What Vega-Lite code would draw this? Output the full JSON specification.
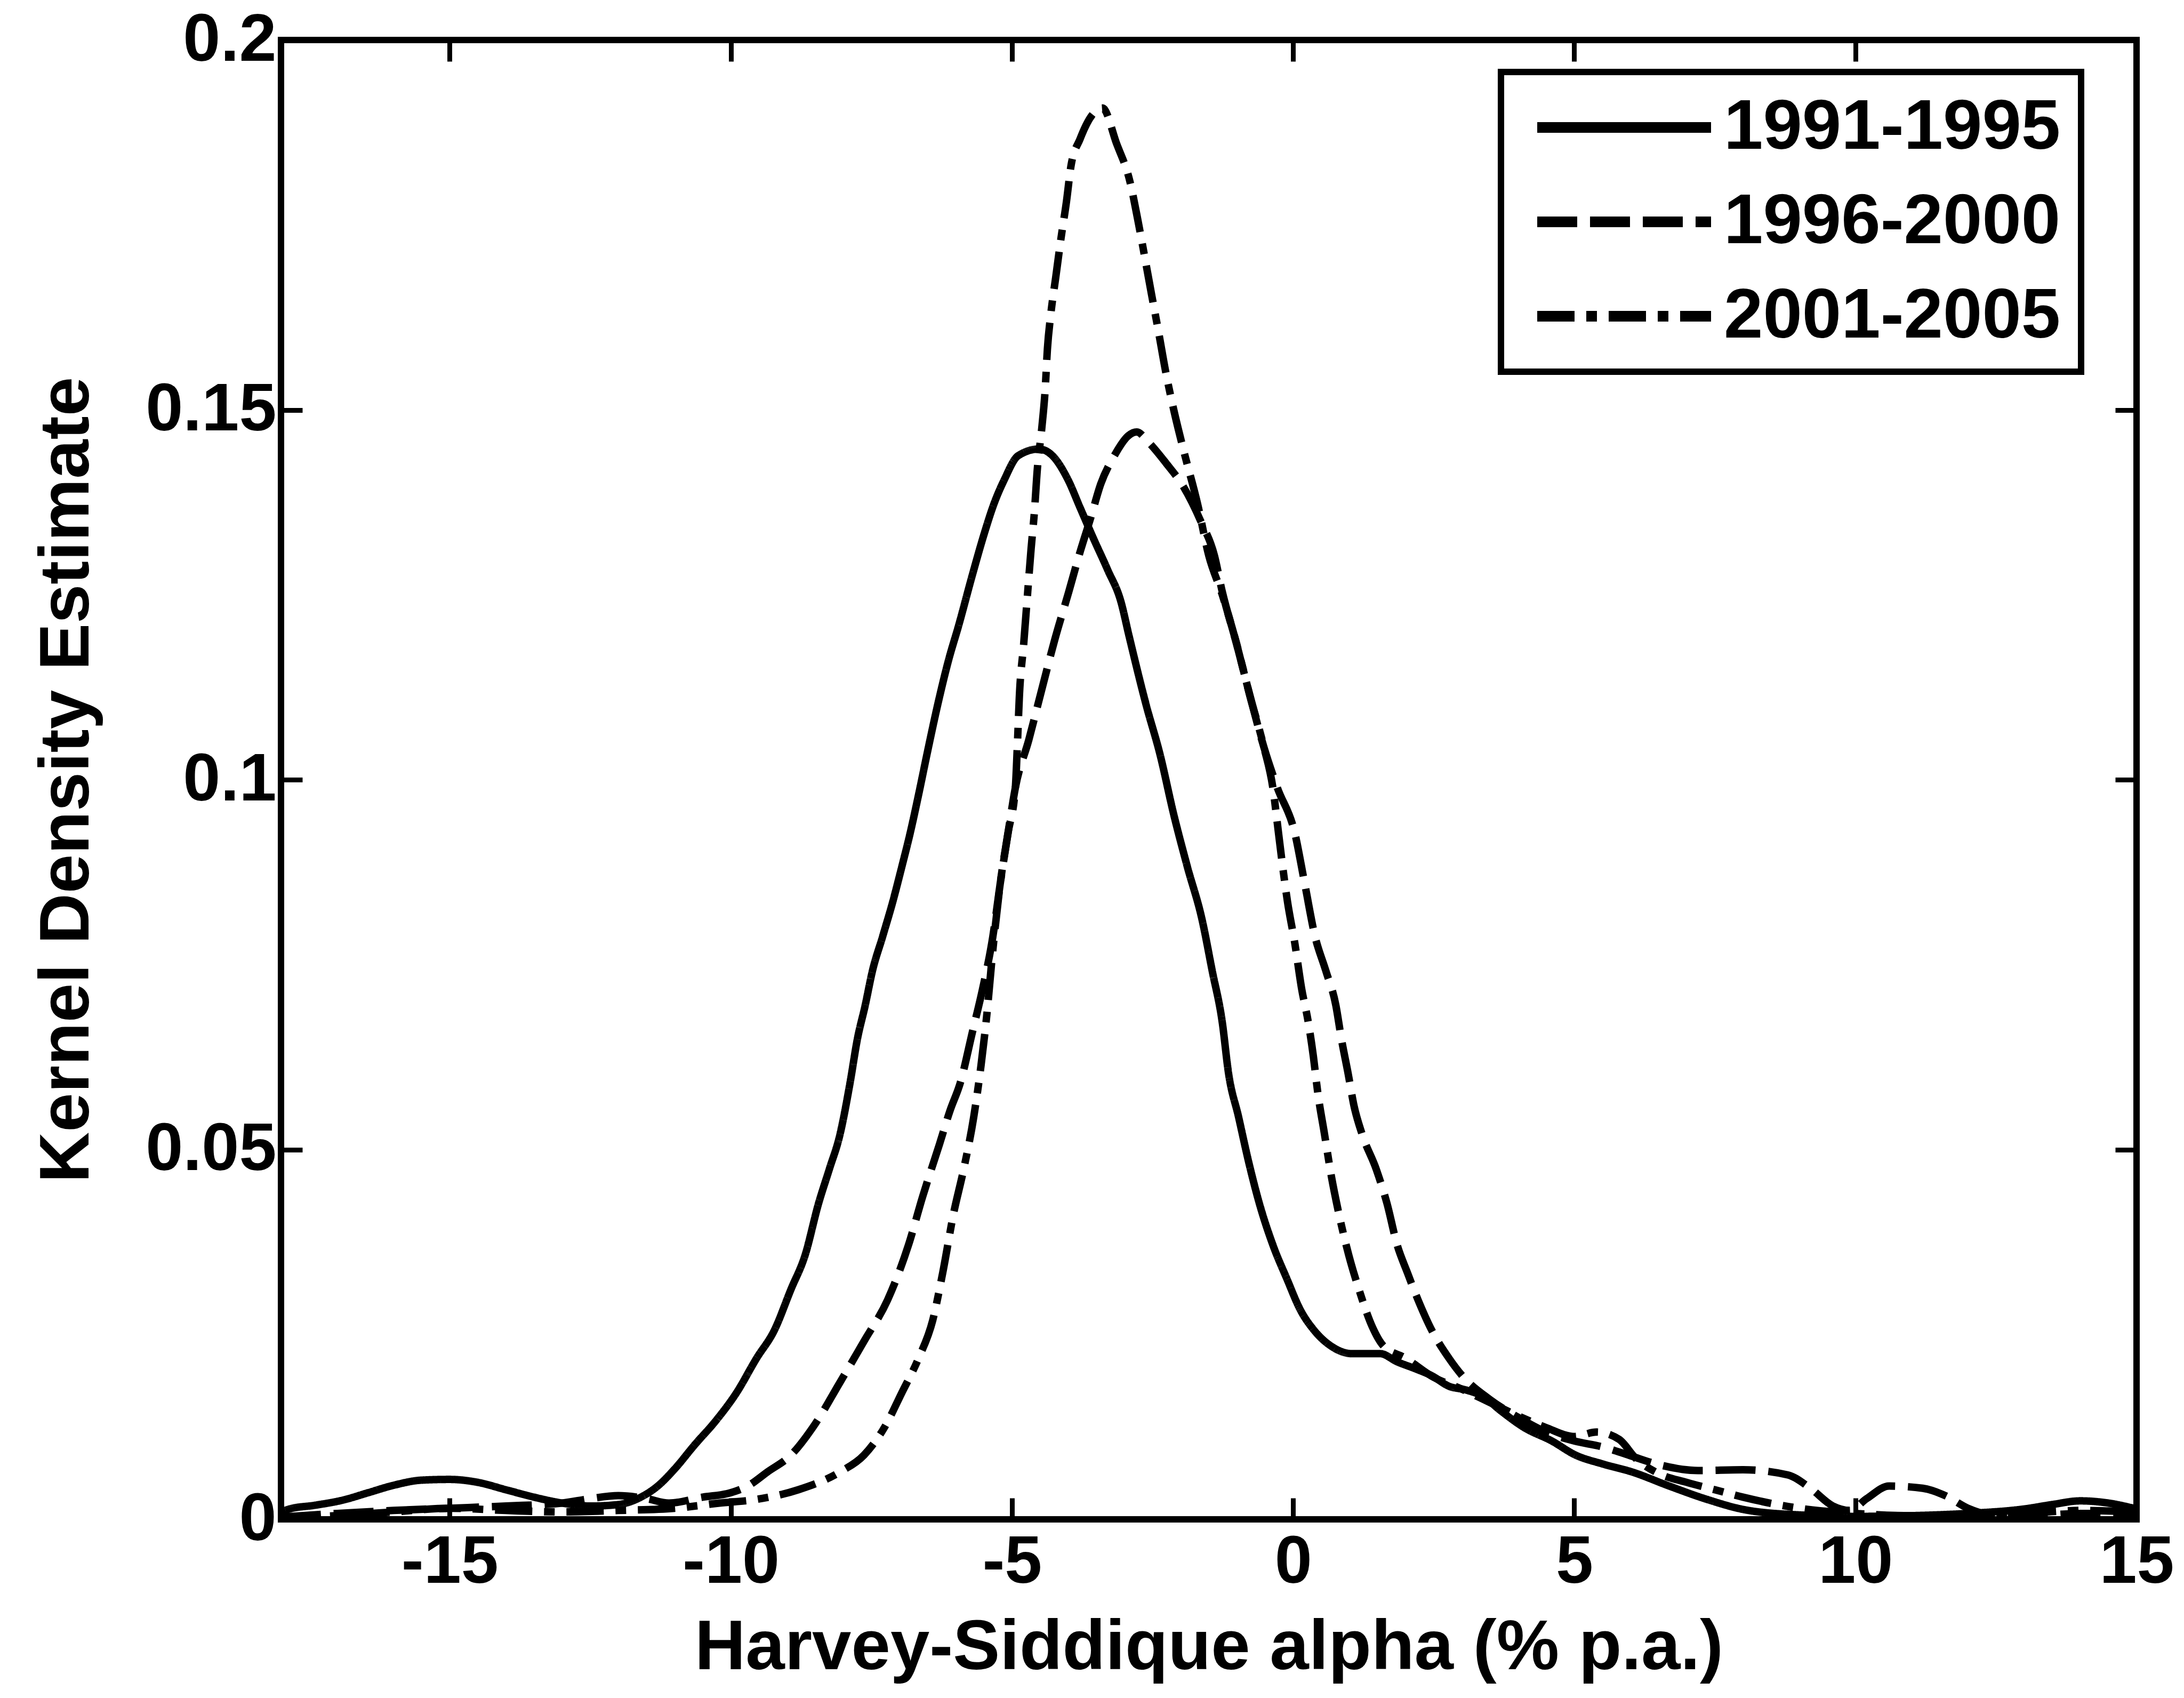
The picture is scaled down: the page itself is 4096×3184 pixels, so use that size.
{
  "$schema": "https://vega.github.io/schema/vega-lite/v6.json",
  "width": 3480,
  "height": 2774,
  "autosize": {"type": "none"},
  "padding": {"left": 527, "top": 75, "right": 89, "bottom": 334},
  "background": "white",
  "config": {
    "view": {"stroke": "black", "strokeWidth": 12},
    "font": "Liberation Sans",
    "legend": {"strokeWidth": 12}
  },
  "datasets": {
    "kde": [
      {"period":"1991-1995","alpha":-18,"density":0.0010},
      {"period":"1991-1995","alpha":-17.85,"density":0.0014},
      {"period":"1991-1995","alpha":-17.4,"density":0.0019},
      {"period":"1991-1995","alpha":-16.9,"density":0.0026},
      {"period":"1991-1995","alpha":-16.45,"density":0.0036},
      {"period":"1991-1995","alpha":-16.0,"density":0.0046},
      {"period":"1991-1995","alpha":-15.5,"density":0.0053},
      {"period":"1991-1995","alpha":-15.0,"density":0.0054},
      {"period":"1991-1995","alpha":-14.5,"density":0.0050},
      {"period":"1991-1995","alpha":-14.0,"density":0.0040},
      {"period":"1991-1995","alpha":-13.5,"density":0.0030},
      {"period":"1991-1995","alpha":-13.0,"density":0.0022},
      {"period":"1991-1995","alpha":-12.5,"density":0.0018},
      {"period":"1991-1995","alpha":-12.0,"density":0.0020},
      {"period":"1991-1995","alpha":-11.6,"density":0.0030},
      {"period":"1991-1995","alpha":-11.3,"density":0.0045},
      {"period":"1991-1995","alpha":-11.0,"density":0.0068},
      {"period":"1991-1995","alpha":-10.64,"density":0.0101},
      {"period":"1991-1995","alpha":-10.27,"density":0.0133},
      {"period":"1991-1995","alpha":-9.9,"density":0.0171},
      {"period":"1991-1995","alpha":-9.54,"density":0.0218},
      {"period":"1991-1995","alpha":-9.23,"density":0.0255},
      {"period":"1991-1995","alpha":-8.93,"density":0.0311},
      {"period":"1991-1995","alpha":-8.68,"density":0.0357},
      {"period":"1991-1995","alpha":-8.44,"density":0.0427},
      {"period":"1991-1995","alpha":-8.25,"density":0.0473},
      {"period":"1991-1995","alpha":-8.06,"density":0.0520},
      {"period":"1991-1995","alpha":-7.88,"density":0.0590},
      {"period":"1991-1995","alpha":-7.75,"density":0.0649},
      {"period":"1991-1995","alpha":-7.61,"density":0.0695},
      {"period":"1991-1995","alpha":-7.48,"density":0.0742},
      {"period":"1991-1995","alpha":-7.30,"density":0.0788},
      {"period":"1991-1995","alpha":-7.12,"density":0.0835},
      {"period":"1991-1995","alpha":-6.96,"density":0.0882},
      {"period":"1991-1995","alpha":-6.81,"density":0.0928},
      {"period":"1991-1995","alpha":-6.66,"density":0.0980},
      {"period":"1991-1995","alpha":-6.51,"density":0.1035},
      {"period":"1991-1995","alpha":-6.31,"density":0.1105},
      {"period":"1991-1995","alpha":-6.13,"density":0.1161},
      {"period":"1991-1995","alpha":-5.95,"density":0.1208},
      {"period":"1991-1995","alpha":-5.70,"density":0.1278},
      {"period":"1991-1995","alpha":-5.50,"density":0.1331},
      {"period":"1991-1995","alpha":-5.32,"density":0.1373},
      {"period":"1991-1995","alpha":-5.14,"density":0.1405},
      {"period":"1991-1995","alpha":-4.89,"density":0.1438},
      {"period":"1991-1995","alpha":-4.52,"density":0.1447},
      {"period":"1991-1995","alpha":-4.28,"density":0.1438},
      {"period":"1991-1995","alpha":-4.00,"density":0.1405},
      {"period":"1991-1995","alpha":-3.79,"density":0.1368},
      {"period":"1991-1995","alpha":-3.55,"density":0.1326},
      {"period":"1991-1995","alpha":-3.30,"density":0.1284},
      {"period":"1991-1995","alpha":-3.06,"density":0.1240},
      {"period":"1991-1995","alpha":-2.92,"density":0.1195},
      {"period":"1991-1995","alpha":-2.61,"density":0.1100},
      {"period":"1991-1995","alpha":-2.37,"density":0.1035},
      {"period":"1991-1995","alpha":-2.12,"density":0.0952},
      {"period":"1991-1995","alpha":-1.88,"density":0.0882},
      {"period":"1991-1995","alpha":-1.62,"density":0.0811},
      {"period":"1991-1995","alpha":-1.44,"density":0.0742},
      {"period":"1991-1995","alpha":-1.26,"density":0.0672},
      {"period":"1991-1995","alpha":-1.15,"density":0.0604},
      {"period":"1991-1995","alpha":-0.97,"density":0.0544},
      {"period":"1991-1995","alpha":-0.79,"density":0.0483},
      {"period":"1991-1995","alpha":-0.60,"density":0.0427},
      {"period":"1991-1995","alpha":-0.36,"density":0.0371},
      {"period":"1991-1995","alpha":-0.11,"density":0.0325},
      {"period":"1991-1995","alpha":0.13,"density":0.0283},
      {"period":"1991-1995","alpha":0.38,"density":0.0255},
      {"period":"1991-1995","alpha":0.68,"density":0.0234},
      {"period":"1991-1995","alpha":1.05,"density":0.0224},
      {"period":"1991-1995","alpha":1.55,"density":0.0224},
      {"period":"1991-1995","alpha":1.85,"density":0.0213},
      {"period":"1991-1995","alpha":2.16,"density":0.0204},
      {"period":"1991-1995","alpha":2.47,"density":0.0194},
      {"period":"1991-1995","alpha":2.77,"density":0.0180},
      {"period":"1991-1995","alpha":3.07,"density":0.0175},
      {"period":"1991-1995","alpha":3.38,"density":0.0166},
      {"period":"1991-1995","alpha":3.69,"density":0.0147},
      {"period":"1991-1995","alpha":4.11,"density":0.0124},
      {"period":"1991-1995","alpha":4.60,"density":0.0106},
      {"period":"1991-1995","alpha":5.02,"density":0.0087},
      {"period":"1991-1995","alpha":5.5,"density":0.0075},
      {"period":"1991-1995","alpha":6.03,"density":0.0064},
      {"period":"1991-1995","alpha":6.69,"density":0.0045},
      {"period":"1991-1995","alpha":7.36,"density":0.0027},
      {"period":"1991-1995","alpha":8.03,"density":0.0013},
      {"period":"1991-1995","alpha":9.0,"density":0.0006},
      {"period":"1991-1995","alpha":10.0,"density":0.0004},
      {"period":"1991-1995","alpha":11.0,"density":0.0005},
      {"period":"1991-1995","alpha":12.0,"density":0.0008},
      {"period":"1991-1995","alpha":13.0,"density":0.0014},
      {"period":"1991-1995","alpha":13.5,"density":0.0020},
      {"period":"1991-1995","alpha":14.0,"density":0.0025},
      {"period":"1991-1995","alpha":14.5,"density":0.0022},
      {"period":"1991-1995","alpha":15.0,"density":0.0014},

      {"period":"1996-2000","alpha":-18,"density":0.0003},
      {"period":"1996-2000","alpha":-17,"density":0.0008},
      {"period":"1996-2000","alpha":-16,"density":0.0012},
      {"period":"1996-2000","alpha":-15,"density":0.0015},
      {"period":"1996-2000","alpha":-14,"density":0.0018},
      {"period":"1996-2000","alpha":-13,"density":0.0022},
      {"period":"1996-2000","alpha":-12.5,"density":0.0028},
      {"period":"1996-2000","alpha":-12,"density":0.0032},
      {"period":"1996-2000","alpha":-11.5,"density":0.0028},
      {"period":"1996-2000","alpha":-11.1,"density":0.0022},
      {"period":"1996-2000","alpha":-10.5,"density":0.0030},
      {"period":"1996-2000","alpha":-10.0,"density":0.0036},
      {"period":"1996-2000","alpha":-9.7,"density":0.0045},
      {"period":"1996-2000","alpha":-9.35,"density":0.0064},
      {"period":"1996-2000","alpha":-8.93,"density":0.0087},
      {"period":"1996-2000","alpha":-8.50,"density":0.0129},
      {"period":"1996-2000","alpha":-8.06,"density":0.0185},
      {"period":"1996-2000","alpha":-7.63,"density":0.0241},
      {"period":"1996-2000","alpha":-7.21,"density":0.0297},
      {"period":"1996-2000","alpha":-6.84,"density":0.0371},
      {"period":"1996-2000","alpha":-6.59,"density":0.0436},
      {"period":"1996-2000","alpha":-6.29,"density":0.0507},
      {"period":"1996-2000","alpha":-6.10,"density":0.0553},
      {"period":"1996-2000","alpha":-5.92,"density":0.0590},
      {"period":"1996-2000","alpha":-5.70,"density":0.0660},
      {"period":"1996-2000","alpha":-5.52,"density":0.0718},
      {"period":"1996-2000","alpha":-5.34,"density":0.0788},
      {"period":"1996-2000","alpha":-5.21,"density":0.0859},
      {"period":"1996-2000","alpha":-5.07,"density":0.0928},
      {"period":"1996-2000","alpha":-4.94,"density":0.0989},
      {"period":"1996-2000","alpha":-4.70,"density":0.1054},
      {"period":"1996-2000","alpha":-4.48,"density":0.1119},
      {"period":"1996-2000","alpha":-4.24,"density":0.1189},
      {"period":"1996-2000","alpha":-3.99,"density":0.1254},
      {"period":"1996-2000","alpha":-3.80,"density":0.1305},
      {"period":"1996-2000","alpha":-3.60,"density":0.1354},
      {"period":"1996-2000","alpha":-3.42,"density":0.1400},
      {"period":"1996-2000","alpha":-3.18,"density":0.1438},
      {"period":"1996-2000","alpha":-2.93,"density":0.1465},
      {"period":"1996-2000","alpha":-2.78,"density":0.1470},
      {"period":"1996-2000","alpha":-2.57,"density":0.1456},
      {"period":"1996-2000","alpha":-2.26,"density":0.1428},
      {"period":"1996-2000","alpha":-1.95,"density":0.1396},
      {"period":"1996-2000","alpha":-1.64,"density":0.1349},
      {"period":"1996-2000","alpha":-1.40,"density":0.1303},
      {"period":"1996-2000","alpha":-1.26,"density":0.1254},
      {"period":"1996-2000","alpha":-1.01,"density":0.1185},
      {"period":"1996-2000","alpha":-0.77,"density":0.1114},
      {"period":"1996-2000","alpha":-0.52,"density":0.1044},
      {"period":"1996-2000","alpha":-0.28,"density":0.0989},
      {"period":"1996-2000","alpha":0.03,"density":0.0928},
      {"period":"1996-2000","alpha":0.21,"density":0.0858},
      {"period":"1996-2000","alpha":0.39,"density":0.0788},
      {"period":"1996-2000","alpha":0.58,"density":0.0742},
      {"period":"1996-2000","alpha":0.76,"density":0.0695},
      {"period":"1996-2000","alpha":0.86,"density":0.0649},
      {"period":"1996-2000","alpha":0.98,"density":0.0602},
      {"period":"1996-2000","alpha":1.08,"density":0.0560},
      {"period":"1996-2000","alpha":1.23,"density":0.0520},
      {"period":"1996-2000","alpha":1.48,"density":0.0473},
      {"period":"1996-2000","alpha":1.67,"density":0.0427},
      {"period":"1996-2000","alpha":1.85,"density":0.0371},
      {"period":"1996-2000","alpha":2.03,"density":0.0334},
      {"period":"1996-2000","alpha":2.22,"density":0.0297},
      {"period":"1996-2000","alpha":2.47,"density":0.0255},
      {"period":"1996-2000","alpha":2.77,"density":0.0218},
      {"period":"1996-2000","alpha":3.01,"density":0.0194},
      {"period":"1996-2000","alpha":3.5,"density":0.0162},
      {"period":"1996-2000","alpha":4.0,"density":0.0138},
      {"period":"1996-2000","alpha":4.5,"density":0.0118},
      {"period":"1996-2000","alpha":5.0,"density":0.0106},
      {"period":"1996-2000","alpha":5.5,"density":0.0098},
      {"period":"1996-2000","alpha":6.0,"density":0.0086},
      {"period":"1996-2000","alpha":6.5,"density":0.0074},
      {"period":"1996-2000","alpha":7.2,"density":0.0066},
      {"period":"1996-2000","alpha":8.0,"density":0.0067},
      {"period":"1996-2000","alpha":8.8,"density":0.0060},
      {"period":"1996-2000","alpha":9.2,"density":0.0042},
      {"period":"1996-2000","alpha":9.6,"density":0.0018},
      {"period":"1996-2000","alpha":9.9,"density":0.0012},
      {"period":"1996-2000","alpha":10.2,"density":0.0028},
      {"period":"1996-2000","alpha":10.6,"density":0.0045},
      {"period":"1996-2000","alpha":11.2,"density":0.0042},
      {"period":"1996-2000","alpha":11.6,"density":0.0032},
      {"period":"1996-2000","alpha":12.0,"density":0.0015},
      {"period":"1996-2000","alpha":12.4,"density":0.0006},
      {"period":"1996-2000","alpha":13,"density":0.0004},
      {"period":"1996-2000","alpha":14,"density":0.0008},
      {"period":"1996-2000","alpha":15,"density":0.0008},

      {"period":"2001-2005","alpha":-18,"density":0.0002},
      {"period":"2001-2005","alpha":-17,"density":0.0005},
      {"period":"2001-2005","alpha":-16,"density":0.0010},
      {"period":"2001-2005","alpha":-15,"density":0.0015},
      {"period":"2001-2005","alpha":-14,"density":0.0012},
      {"period":"2001-2005","alpha":-13,"density":0.0010},
      {"period":"2001-2005","alpha":-12,"density":0.0012},
      {"period":"2001-2005","alpha":-11,"density":0.0015},
      {"period":"2001-2005","alpha":-10.2,"density":0.0022},
      {"period":"2001-2005","alpha":-9.54,"density":0.0027},
      {"period":"2001-2005","alpha":-8.80,"density":0.0040},
      {"period":"2001-2005","alpha":-8.06,"density":0.0064},
      {"period":"2001-2005","alpha":-7.63,"density":0.0087},
      {"period":"2001-2005","alpha":-7.27,"density":0.0124},
      {"period":"2001-2005","alpha":-6.96,"density":0.0171},
      {"period":"2001-2005","alpha":-6.66,"density":0.0218},
      {"period":"2001-2005","alpha":-6.41,"density":0.0269},
      {"period":"2001-2005","alpha":-6.23,"density":0.0334},
      {"period":"2001-2005","alpha":-6.04,"density":0.0413},
      {"period":"2001-2005","alpha":-5.86,"density":0.0473},
      {"period":"2001-2005","alpha":-5.68,"density":0.0544},
      {"period":"2001-2005","alpha":-5.55,"density":0.0614},
      {"period":"2001-2005","alpha":-5.45,"density":0.0680},
      {"period":"2001-2005","alpha":-5.34,"density":0.0770},
      {"period":"2001-2005","alpha":-5.21,"density":0.0859},
      {"period":"2001-2005","alpha":-5.07,"density":0.0928},
      {"period":"2001-2005","alpha":-4.94,"density":0.0989},
      {"period":"2001-2005","alpha":-4.90,"density":0.1054},
      {"period":"2001-2005","alpha":-4.87,"density":0.1110},
      {"period":"2001-2005","alpha":-4.79,"density":0.1185},
      {"period":"2001-2005","alpha":-4.72,"density":0.1254},
      {"period":"2001-2005","alpha":-4.66,"density":0.1312},
      {"period":"2001-2005","alpha":-4.60,"density":0.1363},
      {"period":"2001-2005","alpha":-4.55,"density":0.1419},
      {"period":"2001-2005","alpha":-4.47,"density":0.1475},
      {"period":"2001-2005","alpha":-4.41,"density":0.1527},
      {"period":"2001-2005","alpha":-4.37,"density":0.1582},
      {"period":"2001-2005","alpha":-4.31,"density":0.1629},
      {"period":"2001-2005","alpha":-4.22,"density":0.1680},
      {"period":"2001-2005","alpha":-4.13,"density":0.1731},
      {"period":"2001-2005","alpha":-4.03,"density":0.1782},
      {"period":"2001-2005","alpha":-3.95,"density":0.1830},
      {"period":"2001-2005","alpha":-3.79,"density":0.1866},
      {"period":"2001-2005","alpha":-3.58,"density":0.1898},
      {"period":"2001-2005","alpha":-3.39,"density":0.1908},
      {"period":"2001-2005","alpha":-3.14,"density":0.1860},
      {"period":"2001-2005","alpha":-2.90,"density":0.1808},
      {"period":"2001-2005","alpha":-2.76,"density":0.1756},
      {"period":"2001-2005","alpha":-2.64,"density":0.1707},
      {"period":"2001-2005","alpha":-2.52,"density":0.1657},
      {"period":"2001-2005","alpha":-2.39,"density":0.1604},
      {"period":"2001-2005","alpha":-2.27,"density":0.1553},
      {"period":"2001-2005","alpha":-2.12,"density":0.1499},
      {"period":"2001-2005","alpha":-1.95,"density":0.1446},
      {"period":"2001-2005","alpha":-1.70,"density":0.1373},
      {"period":"2001-2005","alpha":-1.50,"density":0.1303},
      {"period":"2001-2005","alpha":-1.26,"density":0.1250},
      {"period":"2001-2005","alpha":-1.01,"density":0.1185},
      {"period":"2001-2005","alpha":-0.77,"density":0.1114},
      {"period":"2001-2005","alpha":-0.52,"density":0.1044},
      {"period":"2001-2005","alpha":-0.36,"density":0.0989},
      {"period":"2001-2005","alpha":-0.26,"density":0.0928},
      {"period":"2001-2005","alpha":-0.20,"density":0.0891},
      {"period":"2001-2005","alpha":-0.10,"density":0.0835},
      {"period":"2001-2005","alpha":0.03,"density":0.0779},
      {"period":"2001-2005","alpha":0.15,"density":0.0718},
      {"period":"2001-2005","alpha":0.27,"density":0.0672},
      {"period":"2001-2005","alpha":0.36,"density":0.0626},
      {"period":"2001-2005","alpha":0.44,"density":0.0576},
      {"period":"2001-2005","alpha":0.56,"density":0.0520},
      {"period":"2001-2005","alpha":0.68,"density":0.0464},
      {"period":"2001-2005","alpha":0.80,"density":0.0418},
      {"period":"2001-2005","alpha":0.99,"density":0.0357},
      {"period":"2001-2005","alpha":1.17,"density":0.0311},
      {"period":"2001-2005","alpha":1.41,"density":0.0260},
      {"period":"2001-2005","alpha":1.60,"density":0.0235},
      {"period":"2001-2005","alpha":2.0,"density":0.0218},
      {"period":"2001-2005","alpha":2.5,"density":0.0192},
      {"period":"2001-2005","alpha":3.0,"density":0.0176},
      {"period":"2001-2005","alpha":3.5,"density":0.0158},
      {"period":"2001-2005","alpha":4.0,"density":0.0140},
      {"period":"2001-2005","alpha":4.5,"density":0.0124},
      {"period":"2001-2005","alpha":5.0,"density":0.0112},
      {"period":"2001-2005","alpha":5.4,"density":0.0118},
      {"period":"2001-2005","alpha":5.8,"density":0.0108},
      {"period":"2001-2005","alpha":6.1,"density":0.0082},
      {"period":"2001-2005","alpha":6.5,"density":0.0062},
      {"period":"2001-2005","alpha":7.0,"density":0.0050},
      {"period":"2001-2005","alpha":7.5,"density":0.0040},
      {"period":"2001-2005","alpha":8.0,"density":0.0030},
      {"period":"2001-2005","alpha":9.0,"density":0.0015},
      {"period":"2001-2005","alpha":10,"density":0.0008},
      {"period":"2001-2005","alpha":11,"density":0.0005},
      {"period":"2001-2005","alpha":12,"density":0.0005},
      {"period":"2001-2005","alpha":13,"density":0.0008},
      {"period":"2001-2005","alpha":14,"density":0.0012},
      {"period":"2001-2005","alpha":15,"density":0.0010}
    ]
  },
  "data": {"name": "kde"},
  "layer": [
    {
      "mark": {"type": "line", "strokeWidth": 14, "color": "black", "interpolate": "monotone", "strokeCap": "butt", "clip": true},
      "encoding": {
        "x": {
          "field": "alpha", "type": "quantitative",
          "scale": {"domain": [-18, 15], "nice": false, "zero": false},
          "axis": {
            "orient": "bottom", "values": [-15, -10, -5, 0, 5, 10, 15],
            "domain": false, "grid": false, "ticks": true, "tickSize": -40, "tickWidth": 9, "tickColor": "black",
            "labelFont": "Liberation Sans", "labelFontSize": 126, "labelFontWeight": "bold", "labelColor": "black",
            "labelPadding": 58, "labelFlush": false, "labelLimit": 1000,
            "labelExpr": "replace(datum.label, '\u2212', '-')",
            "title": "Harvey-Siddique alpha (% p.a.)",
            "titleFont": "Liberation Sans", "titleFontSize": 132, "titleFontWeight": "bold", "titleColor": "black",
            "titlePadding": 33
          }
        },
        "y": {
          "field": "density", "type": "quantitative",
          "scale": {"domain": [0, 0.2], "nice": false, "zero": false},
          "axis": {
            "orient": "left", "values": [0, 0.05, 0.1, 0.15, 0.2], "format": "~g",
            "domain": false, "grid": false, "ticks": true, "tickSize": -40, "tickWidth": 9, "tickColor": "black",
            "labelFont": "Liberation Sans", "labelFontSize": 126, "labelFontWeight": "bold", "labelColor": "black",
            "labelPadding": 49, "labelFlush": false, "labelLimit": 1000,
            "title": "Kernel Density Estimate",
            "titleFont": "Liberation Sans", "titleFontSize": 132, "titleFontWeight": "bold", "titleColor": "black",
            "titlePadding": 134
          }
        },
        "strokeDash": {
          "field": "period", "type": "nominal",
          "scale": {"domain": ["1991-1995", "1996-2000", "2001-2005"], "range": [[1, 0], [75, 24], [70, 22, 20, 22]]},
          "legend": {
            "orient": "none", "legendX": 2288, "legendY": 60,
            "title": null, "direction": "vertical",
            "fillColor": "white", "strokeColor": "black",
            "padding": 38, "symbolOffset": 127,
            "symbolType": "M-5,0H5", "symbolSize": 4251, "symbolStrokeWidth": 20, "symbolStrokeColor": "black",
            "labelFont": "Liberation Sans", "labelFontSize": 132, "labelFontWeight": "bold", "labelColor": "black",
            "labelOffset": 121, "rowPadding": 45, "labelLimit": 0
          }
        }
      }
    },
    {
      "mark": {"type": "line", "opacity": 0},
      "encoding": {
        "x": {
          "field": "alpha", "type": "quantitative",
          "axis": {
            "orient": "top", "values": [-15, -10, -5, 0, 5, 10, 15], "labels": false, "title": null,
            "domain": false, "grid": false, "tickSize": -40, "tickWidth": 9, "tickColor": "black"
          }
        },
        "y": {
          "field": "density", "type": "quantitative",
          "axis": {
            "orient": "right", "values": [0, 0.05, 0.1, 0.15, 0.2], "labels": false, "title": null,
            "domain": false, "grid": false, "tickSize": -40, "tickWidth": 9, "tickColor": "black"
          }
        },
        "detail": {"field": "period", "type": "nominal"}
      }
    }
  ],
  "resolve": {"axis": {"x": "independent", "y": "independent"}}
}
